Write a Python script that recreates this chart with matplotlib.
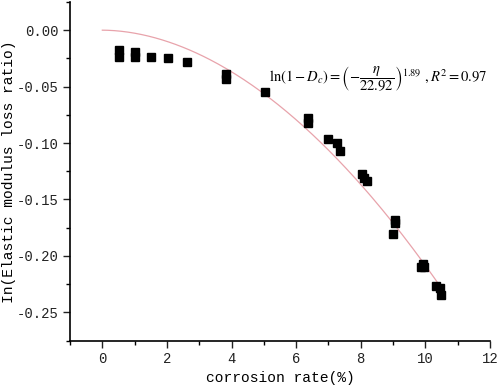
import matplotlib
matplotlib.use('Agg')
import matplotlib.pyplot as plt
import numpy as np
from matplotlib.ticker import MultipleLocator

# measured points (corrosion rate %, ln of elastic modulus loss ratio)
rate = [0.51, 0.51, 1.0, 1.0, 1.5, 2.03, 2.61, 3.82, 3.82, 5.02,
        6.38, 6.38, 6.98, 7.27, 7.35, 8.03, 8.10, 8.18,
        9.05, 9.05, 8.99, 9.91, 9.85, 9.96, 10.32, 10.45, 10.47]
ln_ratio = [-0.0177, -0.0236, -0.019, -0.024, -0.024, -0.025, -0.028, -0.039, -0.043, -0.055,
            -0.078, -0.082, -0.0967, -0.0997, -0.107, -0.127, -0.131, -0.134,
            -0.168, -0.171, -0.181, -0.207, -0.210, -0.210, -0.2265, -0.228, -0.235]

# fit parameters from the annotation
fit_scale = 22.92
fit_power = 1.89
fit_end = 10.5

plt.rcParams['font.family'] = ['Liberation Mono', 'DejaVu Sans']
plt.rcParams['mathtext.fontset'] = 'stix'

fig = plt.figure(figsize=(4.98, 3.91), dpi=100)
ax = fig.add_axes([0.1406, 0.129, 0.8434, 0.866])

xf = np.linspace(0, fit_end, 200)
ax.plot(xf, -(xf / fit_scale) ** fit_power, color='#e8a3ab', lw=0.9, zorder=1)
ax.plot(rate, ln_ratio, 's', color='black', ms=6, zorder=2)

ax.set_xlim(-1, 12)
ax.set_ylim(-0.275, 0.025)
ax.xaxis.set_major_locator(MultipleLocator(2))
ax.xaxis.set_minor_locator(MultipleLocator(1))
ax.yaxis.set_major_locator(MultipleLocator(0.05))
ax.yaxis.set_minor_locator(MultipleLocator(0.025))
ax.yaxis.set_major_formatter(matplotlib.ticker.FormatStrFormatter('%.2f'))
ax.tick_params(which='major', direction='out', length=5, width=1, labelsize=10, colors='#222222')
ax.tick_params(which='minor', direction='out', length=3, width=1)
ax.spines['top'].set_visible(False)
ax.spines['right'].set_visible(False)
for s in ['left', 'bottom']:
    ax.spines[s].set_linewidth(1.2)

ax.set_xlabel('corrosion rate(%)', fontsize=10.5, labelpad=3)
ax.set_ylabel('In(Elastic modulus loss ratio)', fontsize=10.5, labelpad=0)
ax.yaxis.set_label_coords(-0.128, 0.5)

ax.text(0.995, 0.77,
        r'$\mathrm{ln}\left(1-D_c\right)=\left(-\dfrac{\eta}{22.92}\right)^{1.89}\ ,R^2=0.97$',
        transform=ax.transAxes, fontsize=10.5, va='center', ha='right')

fig.savefig('out.png', dpi=100)
